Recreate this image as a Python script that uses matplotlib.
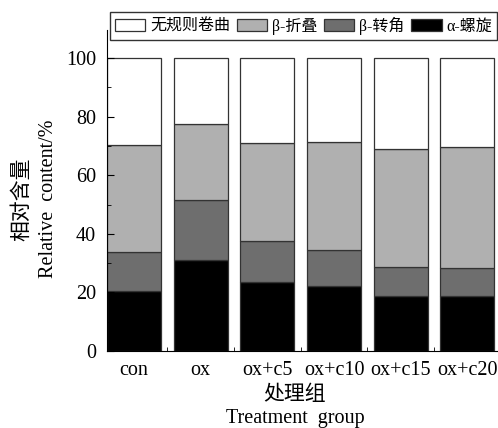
import numpy as np
import matplotlib.pyplot as plt

plt.rcParams['font.family'] = ['Liberation Serif', 'Noto Sans CJK SC', 'DejaVu Sans']

groups = ['con', 'ox', 'ox+c5', 'ox+c10', 'ox+c15', 'ox+c20']
alpha_helix = [20.6, 30.9, 23.5, 22.2, 18.6, 18.6]
beta_turn = [13.1, 20.6, 14.2, 12.3, 10.0, 9.8]
beta_sheet = [36.6, 26.1, 33.3, 37.0, 40.4, 41.1]
random_coil = [29.7, 22.4, 29.0, 28.5, 31.0, 30.5]

series = [
    ('α-螺旋', alpha_helix, '#000000'),
    ('β-转角', beta_turn, '#6e6e6e'),
    ('β-折叠', beta_sheet, '#b0b0b0'),
    ('无规则卷曲', random_coil, '#ffffff'),
]

fig = plt.figure(figsize=(4.98, 4.28), dpi=100)
ax = fig.add_axes([0.2149, 0.18, 0.7851, 0.75])

x = np.arange(len(groups))
bottom = np.zeros(len(groups))
handles = {}
for name, vals, col in series:
    b = ax.bar(x, vals, width=0.81, bottom=bottom, color=col,
               edgecolor='#333333', linewidth=0.9, label=name)
    handles[name] = b
    bottom += np.array(vals)

ax.set_xlim(-0.405, 5.46)
ax.set_ylim(0, 109.6)
ax.set_yticks([0, 20, 40, 60, 80, 100])
ax.set_yticks(np.arange(10, 100, 20), minor=True)
ax.set_xticks(x)
ax.set_xticklabels(groups)
ax.set_xticks(np.arange(0.5, 5, 1), minor=True)
ax.tick_params(axis='x', which='major', length=0, labelsize=14.5, pad=7)
ax.tick_params(axis='x', which='minor', direction='in', length=3)
ax.tick_params(axis='y', which='both', direction='in', labelsize=14.5, pad=8)
ax.tick_params(axis='y', which='major', length=5)
ax.tick_params(axis='y', which='minor', length=3)
for s in ['top', 'right']:
    ax.spines[s].set_visible(False)

fig.text(0.044, 0.535, '相对含量', rotation=90, ha='center', va='center', fontsize=15)
fig.text(0.097, 0.535, 'Relative  content/%', rotation=90, ha='center', va='center', fontsize=14.5)
fig.text(0.592, 0.077, '处理组', ha='center', va='center', fontsize=15)
fig.text(0.594, 0.023, 'Treatment  group', ha='center', va='center', fontsize=14.5)

order = ['无规则卷曲', 'β-折叠', 'β-转角', 'α-螺旋']
leg = ax.legend([handles[n] for n in order], order, ncol=4,
                loc='upper left', bbox_to_anchor=(0.0077, 1.056, 0.99, 0.0),
                mode='expand', fontsize=11.5, frameon=True, fancybox=False,
                edgecolor='black', handlelength=1.9, handleheight=0.8,
                handletextpad=0.3, columnspacing=0.3, borderpad=0.3,
                borderaxespad=0)
leg.get_frame().set_linewidth(1.0)

fig.savefig('out.png', dpi=100)
